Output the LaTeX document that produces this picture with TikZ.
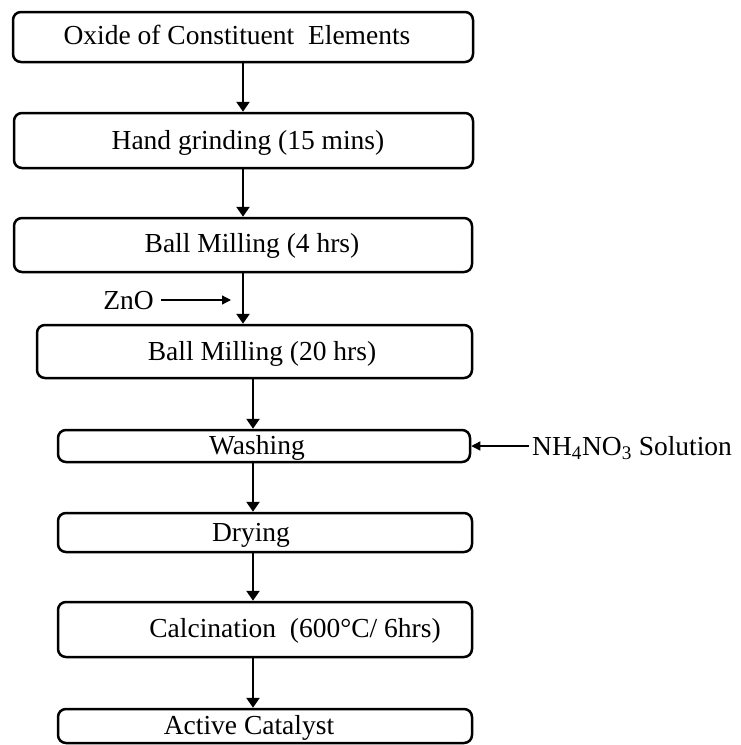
\documentclass[tikz,border=0pt]{standalone}
\usepackage{fontspec}
\setmainfont{Liberation Serif}
\usetikzlibrary{arrows.meta}
\begin{document}
\begin{tikzpicture}[x=1pt,y=1pt,
  box/.style={draw, line width=2.5pt, rounded corners=8pt, inner sep=0pt},
  txt/.style={font=\fontsize{27.5}{30}\selectfont, inner sep=0pt, anchor=base},
  arr/.style={line width=2.6pt, -{Triangle[width=13pt,length=10pt]}},
  thinarr/.style={line width=1.3pt, -{Triangle[width=9pt,length=9pt]}}]
\useasboundingbox (0,0) rectangle (740,-745);
% axis references for the vertical connectors
\coordinate (ca) at (243,0);
\coordinate (cb) at (253,0);
% boxes
\node[box, minimum width=460pt, minimum height=50pt] (b1) at (243,-37) {};
\node[box, minimum width=459pt, minimum height=55pt] (b2) at (243.5,-140.5) {};
\node[box, minimum width=458pt, minimum height=54pt] (b3) at (243,-245) {};
\node[box, minimum width=435pt, minimum height=53pt] (b4) at (254.5,-351.5) {};
\node[box, minimum width=412pt, minimum height=32pt] (b5) at (264,-446) {};
\node[box, minimum width=414pt, minimum height=39pt] (b6) at (265,-532.5) {};
\node[box, minimum width=414pt, minimum height=55pt] (b7) at (265,-629.5) {};
\node[box, minimum width=414pt, minimum height=34pt] (b8) at (265,-726) {};
% texts
\node[txt] (t1) at (237,-44) {Oxide of Constituent\ \ Elements};
\node[txt] (t2) at (248,-149) {Hand grinding (15 mins)};
\node[txt] (t3) at (252,-252) {Ball Milling (4 hrs)};
\node[txt] (t4) at (262,-360) {Ball Milling (20 hrs)};
\node[txt] (t5) at (257,-454) {Washing};
\node[txt] (t6) at (251,-541) {Drying};
\node[txt] (t7) at (295,-637) {Calcination\ \ (600°C/ 6hrs)};
\node[txt] (t8) at (249,-734) {Active Catalyst};
\node[txt] (zn) at (128.5,-309) {ZnO};
\node[txt, anchor=base west] (nh) at (532,-455) {NH\textsubscript{4}NO\textsubscript{3} Solution};
\coordinate (znend) at (231,-300);
% connectors
\draw[arr] (ca |- b1.south) -- (ca |- b2.north);
\draw[arr] (ca |- b2.south) -- (ca |- b3.north);
\draw[arr] (ca |- b3.south) -- (ca |- b4.north);
\draw[arr] (cb |- b4.south) -- (cb |- b5.north);
\draw[arr] (cb |- b5.south) -- (cb |- b6.north);
\draw[arr] (cb |- b6.south) -- (cb |- b7.north);
\draw[arr] (cb |- b7.south) -- (cb |- b8.north);
\draw[thinarr, shorten <=7pt] (zn.east |- znend) -- (znend);
\draw[thinarr, shorten <=3pt] (nh.west |- b5.east) -- (b5.east);
\end{tikzpicture}
\end{document}
